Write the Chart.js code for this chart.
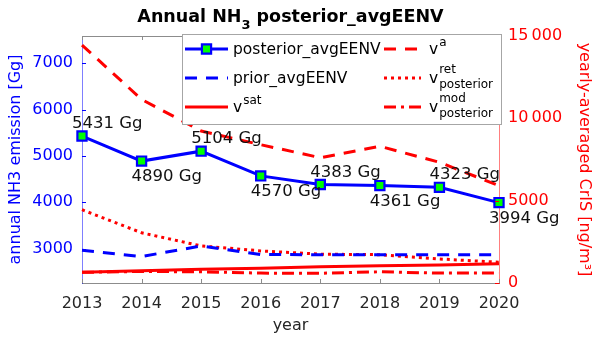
<!DOCTYPE html>
<html><head><meta charset="utf-8">
<style>html,body{margin:0;padding:0;background:#fff;}#wrap{width:600px;height:343px;}</style>
</head><body><div id="wrap"><canvas id="c" width="600" height="343"></canvas></div>
<script src="https://cdn.jsdelivr.net/npm/chart.js@4/dist/chart.umd.min.js"></script>
<script>
const years = ['2013','2014','2015','2016','2017','2018','2019','2020'];
const posteriorAvgEENV = [5431, 4890, 5104, 4570, 4383, 4361, 4323, 3994];
const priorAvgEENV = [2964, 2830, 3057, 2873, 2869, 2869, 2869, 2869];
const vSat = [650, 740, 830, 900, 990, 1040, 1090, 1170];
const vA = [14450, 11150, 9230, 8400, 7610, 8300, 7330, 5910];
const vRetPosterior = [4450, 3050, 2250, 1950, 1750, 1720, 1460, 1260];
const vModPosterior = [650, 700, 680, 600, 590, 680, 600, 600];
const leftTicks = [3000, 4000, 5000, 6000, 7000];
const leftTickLabels = ['3000', '4000', '5000', '6000', '7000'];
const rightTicks = [0, 5000, 10000, 15000];
const rightTickLabels = ['0', '5000', '10\u2009000', '15\u2009000'];
const dataLabelUnit = ' Gg';

const FAM = "'DejaVu Sans', sans-serif";
const BLUE = '#0000ff', RED = '#ff0000', GREEN = '#00ff00';

function parseLabel(s) {
  const m = s.match(/^([A-Za-z])\^([A-Za-z]+)(?:_([A-Za-z]+))?$/);
  if (!m) return {base: s, sup: '', sub: ''};
  return {base: m[1], sup: m[2], sub: m[3] || ''};
}

const overlay = {
  id: 'overlay',
  afterDatasetsDraw(chart) {
    const ctx = chart.ctx;
    const meta = chart.getDatasetMeta(0);
    ctx.save();
    ctx.font = '16.5px ' + FAM;
    ctx.fillStyle = '#111';
    ctx.textAlign = 'left';
    ctx.textBaseline = 'alphabetic';
    meta.data.forEach((el, i) => {
      const y = (i % 2 === 0) ? el.y - 8 : el.y + 20;
      ctx.fillText(posteriorAvgEENV[i] + dataLabelUnit, el.x - 10, y);
    });
    ctx.restore();
  },
  afterDraw(chart) {
    const ctx = chart.ctx;
    const a = chart.chartArea;
    const xs = chart.scales.x, yl = chart.scales.y, yr = chart.scales.y1;
    ctx.save();
    // top border
    ctx.strokeStyle = '#8c8c8c'; ctx.lineWidth = 1;
    ctx.beginPath(); ctx.moveTo(a.left, a.top + 0.5); ctx.lineTo(a.right, a.top + 0.5); ctx.stroke();
    // x ticks inward
    years.forEach((_, i) => {
      const x = Math.round(xs.getPixelForValue(i)) + 0.5;
      ctx.beginPath(); ctx.moveTo(x, a.bottom); ctx.lineTo(x, a.bottom - 4);
      ctx.moveTo(x, a.top); ctx.lineTo(x, a.top + 4); ctx.stroke();
    });
    ctx.strokeStyle = BLUE;
    leftTicks.forEach(v => {
      const y = Math.round(yl.getPixelForValue(v)) + 0.5;
      ctx.beginPath(); ctx.moveTo(a.left, y); ctx.lineTo(a.left + 4, y); ctx.stroke();
    });
    ctx.strokeStyle = RED;
    rightTicks.forEach(v => {
      const y = Math.round(yr.getPixelForValue(v)) + 0.5;
      ctx.beginPath(); ctx.moveTo(a.right, y); ctx.lineTo(a.right - 4, y); ctx.stroke();
    });

    // title
    ctx.fillStyle = '#000';
    ctx.textBaseline = 'alphabetic';
    ctx.textAlign = 'left';
    const t1 = 'Annual NH', t2 = '3', t3 = ' posterior_avgEENV';
    const big = 'bold 17.5px ' + FAM, small = 'bold 13px ' + FAM;
    ctx.font = big;
    const w1 = ctx.measureText(t1).width, w3 = ctx.measureText(t3).width;
    ctx.font = small;
    const w2 = ctx.measureText(t2).width;
    let tx = (a.left + a.right) / 2 - (w1 + w2 + w3) / 2;
    ctx.font = big; ctx.fillText(t1, tx, 22); tx += w1;
    ctx.font = small; ctx.fillText(t2, tx, 29); tx += w2;
    ctx.font = big; ctx.fillText(t3, tx, 22);

    // legend
    const L = {x1: 182, x2: 502, y1: 34, y2: 125};
    ctx.fillStyle = '#fff';
    ctx.fillRect(L.x1, L.y1, L.x2 - L.x1, L.y2 - L.y1);
    ctx.strokeStyle = '#a6a6a6'; ctx.lineWidth = 1;
    ctx.strokeRect(L.x1 + 0.5, L.y1 + 0.5, L.x2 - L.x1 - 1, L.y2 - L.y1 - 1);
    const rows = [49, 78, 107];
    const cols = [{lx1: 185, lx2: 228, tx: 233}, {lx1: 384, lx2: 421, tx: 429}];
    chart.data.datasets.forEach((ds, i) => {
      const col = cols[Math.floor(i / 3)], ry = rows[i % 3];
      ctx.save();
      ctx.strokeStyle = ds.borderColor; ctx.lineWidth = ds.borderWidth;
      ctx.setLineDash(ds.borderDash || []);
      ctx.beginPath(); ctx.moveTo(col.lx1, ry); ctx.lineTo(col.lx2, ry); ctx.stroke();
      ctx.restore();
      if (ds.pointRadius > 0) {
        const s = ds.pointRadius * Math.SQRT1_2;
        const cx = (col.lx1 + col.lx2) / 2;
        ctx.fillStyle = ds.pointBackgroundColor; ctx.strokeStyle = ds.pointBorderColor;
        ctx.lineWidth = ds.pointBorderWidth;
        ctx.beginPath(); ctx.rect(cx - s, ry - s, 2 * s, 2 * s); ctx.fill(); ctx.stroke();
      }
      const p = parseLabel(ds.label);
      ctx.fillStyle = '#000';
      ctx.font = '15.5px ' + FAM;
      ctx.fillText(p.base, col.tx, ry + 5);
      const bw = ctx.measureText(p.base).width;
      ctx.font = '12px ' + FAM;
      if (p.sup) ctx.fillText(p.sup, col.tx + bw + 1, p.sub ? ry - 5 : ry - 3);
      if (p.sub) ctx.fillText(p.sub, col.tx + bw + 1, ry + 10);
    });
    ctx.restore();
  }
};

const fontTick = {family: FAM, size: 16};
new Chart(document.getElementById('c').getContext('2d'), {
  type: 'line',
  data: {
    labels: years,
    datasets: [
      {label: 'posterior_avgEENV', data: posteriorAvgEENV, yAxisID: 'y', borderColor: BLUE, borderWidth: 3,
       pointStyle: 'rect', pointRadius: 6.5, pointBackgroundColor: GREEN, pointBorderColor: BLUE, pointBorderWidth: 2.2, tension: 0},
      {label: 'prior_avgEENV', data: priorAvgEENV, yAxisID: 'y', borderColor: BLUE, borderWidth: 3, borderDash: [12, 9], pointRadius: 0},
      {label: 'v^sat', data: vSat, yAxisID: 'y1', borderColor: RED, borderWidth: 3, pointRadius: 0},
      {label: 'v^a', data: vA, yAxisID: 'y1', borderColor: RED, borderWidth: 3, borderDash: [12, 9], pointRadius: 0},
      {label: 'v^ret_posterior', data: vRetPosterior, yAxisID: 'y1', borderColor: RED, borderWidth: 3, borderDash: [3, 4], pointRadius: 0},
      {label: 'v^mod_posterior', data: vModPosterior, yAxisID: 'y1', borderColor: RED, borderWidth: 3, borderDash: [12, 5, 3, 5], pointRadius: 0}
    ]
  },
  options: {
    responsive: false, animation: false, devicePixelRatio: 1,
    layout: {padding: {top: 36, left: 0, right: 0, bottom: 0}},
    plugins: {legend: {display: false}, title: {display: false}, tooltip: {enabled: false}},
    scales: {
      x: {
        type: 'category', offset: false,
        grid: {display: false, drawTicks: false},
        border: {display: true, color: '#8c8c8c', width: 1},
        ticks: {color: '#262626', font: fontTick, padding: 11, maxRotation: 0, autoSkip: false},
        title: {display: true, text: 'year', color: '#262626', font: fontTick, padding: {top: 0, bottom: 8}},
        afterFit(s) { s.height = 60; }
      },
      y: {
        position: 'left', min: 2258, max: 7590,
        afterBuildTicks(s) { s.ticks = leftTicks.map(v => ({value: v})); },
        grid: {display: false, drawTicks: false},
        border: {display: true, color: 'rgba(0,0,255,0.5)', width: 1},
        ticks: {color: BLUE, font: fontTick, padding: 9,
                callback: (v) => leftTickLabels[leftTicks.indexOf(v)]},
        title: {display: true, text: 'annual NH3 emission [Gg]', color: BLUE, font: fontTick, padding: {top: 6, bottom: 0}},
        afterFit(s) { s.width = 82; }
      },
      y1: {
        position: 'right', min: 0, max: 15000,
        afterBuildTicks(s) { s.ticks = rightTicks.map(v => ({value: v})); },
        grid: {display: false, drawTicks: false},
        border: {display: true, color: 'rgba(255,0,0,0.5)', width: 1},
        ticks: {color: RED, font: fontTick, padding: 9,
                callback: (v) => rightTickLabels[rightTicks.indexOf(v)]},
        title: {display: true, text: 'yearly-averaged CrIS [ng/m\u00b3]', color: RED, font: fontTick, padding: {top: 6, bottom: 0}},
        afterFit(s) { s.width = 101; }
      }
    }
  },
  plugins: [overlay]
});
</script></body></html>
